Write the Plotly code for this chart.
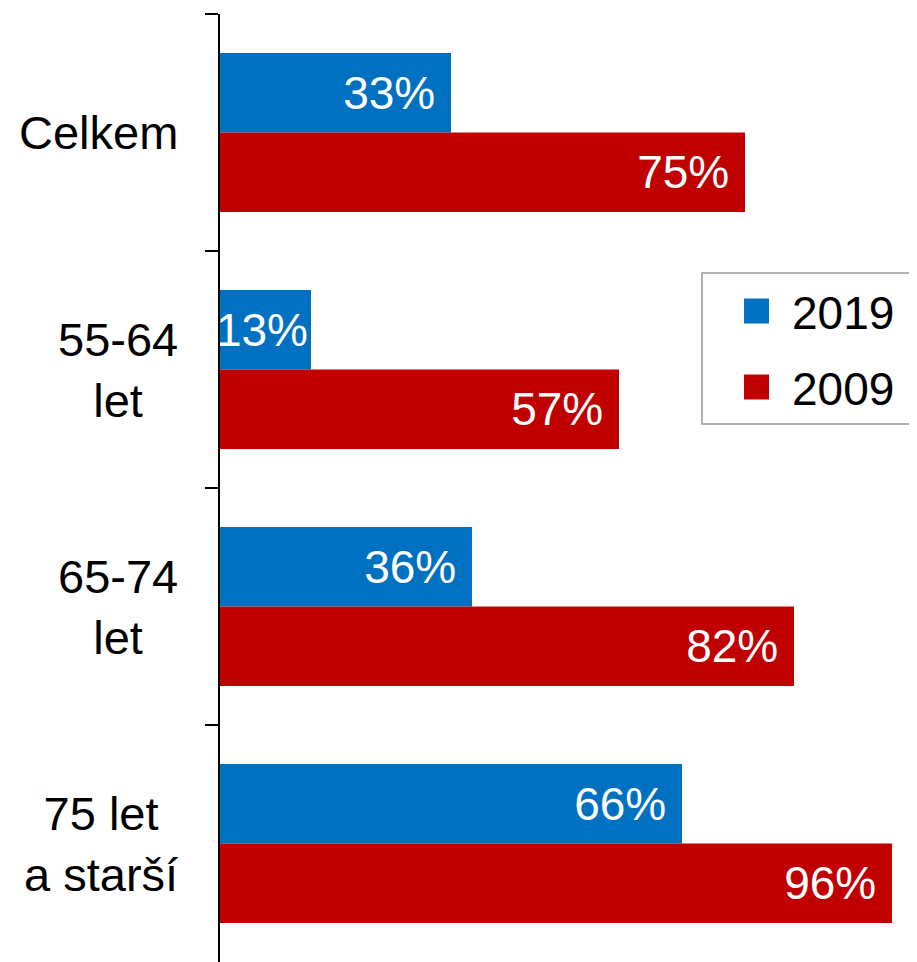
import plotly.graph_objects as go

# data
categories = ["Celkem", "55-64<br>let", "65-74<br>let", "75 let<br>a starší"]
years = ["2019", "2009"]
values_2019 = [33, 13, 36, 66]
values_2009 = [75, 57, 82, 96]
colors = ["#0070C0", "#C00000"]

OFF = 8  # page body margin
W, H = 917, 962 - OFF
L, R, T, B = 212, 0, 6, 0
PW, PH = W - L - R, H - T - B
FONT = "Arial, Liberation Sans, sans-serif"


def px_x(p):
    # screen pixel -> paper x
    return (p - OFF - L) / PW


def px_y(p):
    # screen pixel -> paper y
    return 1 - (p - OFF - T) / PH


def bar_text(vals):
    # pad the label off the bar end when there is room for it
    return [f"{v}%" + ("\u00a0" if v > 20 else "") for v in vals]


fig = go.Figure()
for name, vals, col in zip(years, [values_2019, values_2009], colors):
    fig.add_trace(go.Bar(
        y=categories, x=vals, name=name, orientation="h",
        marker=dict(color=col, line=dict(width=0)),
        text=bar_text(vals), textposition="inside", insidetextanchor="end",
        textfont=dict(color="white", size=46, family=FONT),
        showlegend=False, cliponaxis=False,
    ))

fig.update_layout(
    width=W, height=H,
    margin=dict(l=L, r=R, t=T, b=B),
    plot_bgcolor="white", paper_bgcolor="white",
    font=dict(family=FONT, color="black", size=46),
    barmode="group", bargap=0.33, bargroupgap=0,
    uniformtext=dict(minsize=46, mode="show"),
    xaxis=dict(range=[0, PW / 7.0], visible=False),
    yaxis=dict(
        autorange="reversed", showticklabels=False,
        showline=True, linecolor="black", linewidth=1.5,
        ticks="outside", ticklen=13, tickwidth=1.5, tickcolor="black",
        tickson="boundaries", showgrid=False,
    ),
)

# category labels, centred lines in a right-aligned block
for cat in categories:
    fig.add_annotation(
        x=0, xref="paper", y=cat, yref="y",
        text=cat, showarrow=False, xanchor="right", align="center",
        xshift=-40, font=dict(size=47, family=FONT, color="black"),
    )

# legend drawn by hand to get the large square keys
fig.add_shape(type="rect", xref="paper", yref="paper",
              x0=px_x(702), x1=px_x(935), y0=px_y(424), y1=px_y(273),
              line=dict(color="#999999", width=1.5), fillcolor="white")
for i, (name, col) in enumerate(zip(years, colors)):
    cy = 311 + i * 76
    fig.add_shape(type="rect", xref="paper", yref="paper",
                  x0=px_x(744), x1=px_x(769), y0=px_y(cy + 12.5), y1=px_y(cy - 12.5),
                  line=dict(width=0), fillcolor=col)
    fig.add_annotation(x=px_x(790), y=px_y(cy + 2), xref="paper", yref="paper",
                       text=name, showarrow=False, xanchor="left", yanchor="middle",
                       font=dict(size=46, family=FONT, color="black"))

fig.write_html("out.html")
